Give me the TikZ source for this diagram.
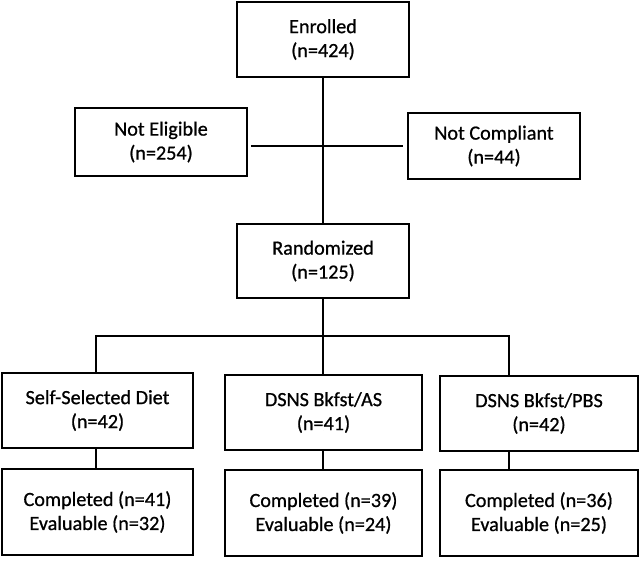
\documentclass[tikz,border=0pt]{standalone}
\usepackage{fontspec}
\setmainfont{Carlito}
\newfontfamily\boxfont{Carlito}[FakeBold=0.8]
\usetikzlibrary{calc}

\begin{document}
\begin{tikzpicture}[x=1pt, y=-1pt,
    box/.style={draw, line width=1.6pt, align=center, inner sep=0pt,
        minimum width=172pt, minimum height=75pt,
        font=\boxfont\fontsize{20.2}{24}\selectfont},
    link/.style={line width=1.6pt}]
    \useasboundingbox (0,0) rectangle (639,560);

    % screening
    \node[box] (enrolled) at (323,39.5) {Enrolled\\(n=424)};
    \node[box, minimum height=68pt] (noteligible) at (161,142) {Not Eligible\\(n=254)};
    \node[box, minimum height=66pt] (notcompliant) at (494,146) {Not Compliant\\(n=44)};
    \node[box, minimum height=74pt] (randomized) at (323,261) {Randomized\\(n=125)};

    % study arms
    \node[box, minimum width=191pt] (selfdiet) at (97.5,410.5) {Self-Selected Diet\\(n=42)};
    \node[box, minimum width=197pt] (dsnsas) at (323.5,412.5) {DSNS Bkfst/AS\\(n=41)};
    \node[box, minimum width=198pt] (dsnspbs) at (539,413.5) {DSNS Bkfst/PBS\\(n=42)};

    \node[box, minimum width=191pt, minimum height=86pt] (selfdone) at (97.5,512) {Completed (n=41)\\Evaluable (n=32)};
    \node[box, minimum width=197pt, minimum height=86pt] (asdone) at (323.5,513) {Completed (n=39)\\Evaluable (n=24)};
    \node[box, minimum width=198pt, minimum height=86pt] (pbsdone) at (539,513) {Completed (n=36)\\Evaluable (n=25)};

    \coordinate (cross) at (323,146);
    \coordinate (split) at (323,336);
    \coordinate (pbsdrop) at (509,336);

    \draw[link] (enrolled.south) -- (randomized.north);
    \draw[link, shorten <=3pt, shorten >=4pt] (noteligible.east |- cross) -- (notcompliant.west |- cross);

    \draw[link] (randomized.south) -- (split) -- (dsnsas.north -| split);
    \draw[link] (selfdiet.north -| 96,0) |- (pbsdrop) -- (dsnspbs.north -| pbsdrop);

    \draw[link] (selfdiet.south -| 96,0) -- (selfdone.north -| 96,0);
    \draw[link] (dsnsas.south -| split) -- (asdone.north -| split);
    \draw[link] (dsnspbs.south -| pbsdrop) -- (pbsdone.north -| pbsdrop);
\end{tikzpicture}
\end{document}
